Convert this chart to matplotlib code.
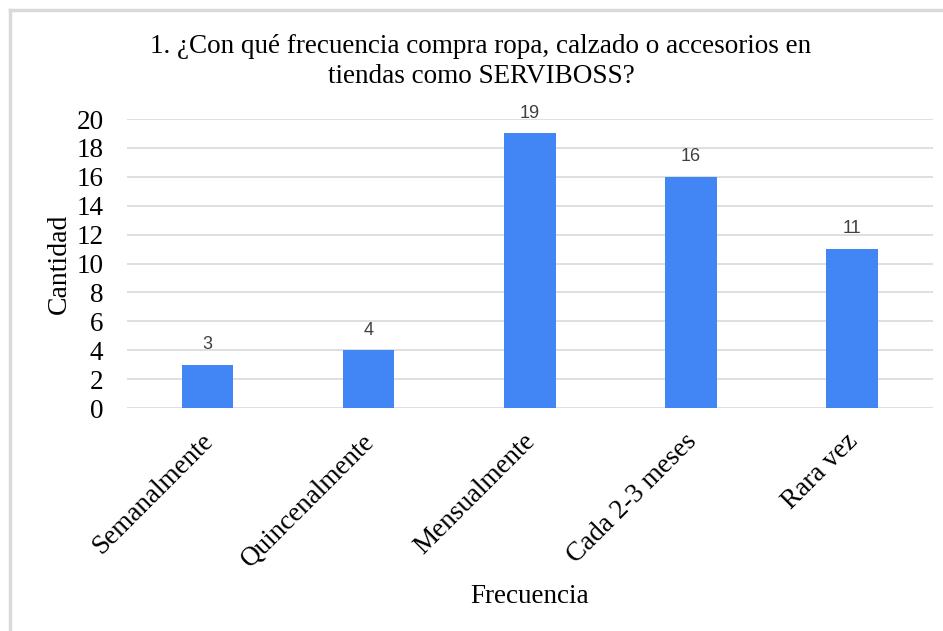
import matplotlib.pyplot as plt
from matplotlib.lines import Line2D
from matplotlib.transforms import ScaledTranslation

categorias = ["Semanalmente", "Quincenalmente", "Mensualmente", "Cada 2-3 meses", "Rara vez"]
cantidad = [3, 4, 19, 16, 11]
yticks = [0, 2, 4, 6, 8, 10, 12, 14, 16, 18, 20]

fig = plt.figure(figsize=(9.43, 6.31), dpi=100)
ax = fig.add_axes([0.1347, 0.3534, 0.8543, 0.458])

serif = "Liberation Serif"
x = list(range(len(categorias)))
bars = ax.bar(x, cantidad, width=0.32, color="#4285F4", zorder=3)
for b, v in zip(bars, cantidad):
    ax.text(b.get_x() + b.get_width() / 2, v + 0.8, str(v), ha="center", va="bottom",
            fontsize=13, color="#404040", family="Liberation Sans")

ax.set_xlim(-0.5, len(categorias) - 0.5)
ax.set_ylim(0, 20)
ax.set_yticks(yticks)
ax.set_yticklabels([str(t) for t in yticks], family=serif, fontsize=19.5)
ax.grid(axis="y", color="#d9d9d9", linewidth=1.2, zorder=0)
ax.tick_params(axis="both", length=0)
ax.tick_params(axis="y", pad=17)
ax.set_xticks(x)
ax.set_xticklabels(categorias, rotation=45, ha="right", va="top", rotation_mode="anchor",
                   family=serif, fontsize=19.5)
ax.tick_params(axis="x", pad=15)
desplazar = ScaledTranslation(-0.07, 0.0, fig.dpi_scale_trans)
for lbl in ax.get_xticklabels():
    lbl.set_transform(lbl.get_transform() + desplazar)
for s in ax.spines.values():
    s.set_visible(False)

ax.set_ylabel("Cantidad", family=serif, fontsize=20, labelpad=3)
fig.text(0.562, 0.054, "Frecuencia", ha="center", va="center", family=serif, fontsize=19.5)
fig.text(0.51, 0.902, "1. ¿Con qué frecuencia compra ropa, calzado o accesorios en\ntiendas como SERVIBOSS?",
         ha="center", va="center", family=serif, fontsize=19.5, linespacing=1.25)

# marco gris del gráfico
fig.add_artist(Line2D([0.0111, 1.0], [0.984, 0.984], color="#d9d9d9", linewidth=2.5, transform=fig.transFigure))
fig.add_artist(Line2D([0.0111, 0.0111], [0.0, 0.984], color="#d9d9d9", linewidth=2.5, transform=fig.transFigure))

fig.savefig("out.png", dpi=100)
